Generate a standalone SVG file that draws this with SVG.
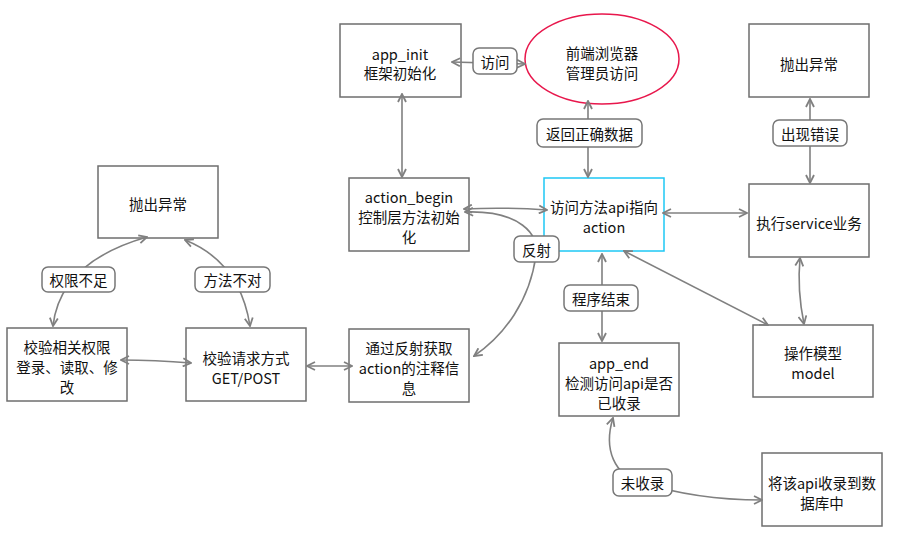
<svg xmlns="http://www.w3.org/2000/svg" width="905" height="545" viewBox="0 0 905 545">
  <style>
    .box { fill: #ffffff; stroke: #6e6e6e; stroke-width: 1.5; }
    .cyan { fill: #ffffff; stroke: #1ec8f5; stroke-width: 1.5; }
    .oval { fill: #ffffff; stroke: #e8174c; stroke-width: 1.5; }
    .t { font-family: "Noto Sans CJK SC", "Microsoft YaHei", sans-serif; font-size: 14.5px; fill: #111; text-anchor: middle; dominant-baseline: central; }
    .edge { fill: none; stroke: #808080; stroke-width: 1.6; marker-start: url(#arr); marker-end: url(#arr); }
    .tail { fill: none; stroke: #808080; stroke-width: 1.6; marker-end: url(#arr); }
    .lbl { fill: #ffffff; stroke: #777777; stroke-width: 1.5; }
  </style>
  <defs>
    <marker id="arr" viewBox="0 0 10 10" refX="9" refY="5" markerWidth="10" markerHeight="10" markerUnits="userSpaceOnUse" orient="auto-start-reverse">
      <path d="M1,1 L9,5 L1,9" fill="none" stroke="#808080" stroke-width="1.8"/>
    </marker>
  </defs>
  <rect width="905" height="545" fill="#ffffff"/>

  <!-- nodes -->
  <g id="app_init">
    <rect class="box" x="340" y="24" width="121" height="73"/>
    <text class="t" x="400" y="53">app_init</text>
    <text class="t" x="400" y="72">框架初始化</text>
  </g>
  <g id="browser">
    <ellipse class="oval" cx="602" cy="59" rx="77" ry="45"/>
    <text class="t" x="602" y="52">前端浏览器</text>
    <text class="t" x="602" y="72">管理员访问</text>
  </g>
  <g id="error_top">
    <rect class="box" x="749" y="24" width="120" height="73"/>
    <text class="t" x="809" y="63">抛出异常</text>
  </g>
  <g id="action_begin">
    <rect class="box" x="349" y="178" width="120" height="73"/>
    <text class="t" x="409" y="196">action_begin</text>
    <text class="t" x="409" y="216">控制层方法初始</text>
    <text class="t" x="409" y="236">化</text>
  </g>
  <g id="access_api">
    <rect class="cyan" x="544" y="178" width="120" height="73"/>
    <text class="t" x="604" y="206">访问方法api指向</text>
    <text class="t" x="604" y="226">action</text>
  </g>
  <g id="service">
    <rect class="box" x="749" y="184" width="120" height="73"/>
    <text class="t" x="809" y="222">执行service业务</text>
  </g>
  <g id="model">
    <rect class="box" x="753" y="325" width="120" height="72"/>
    <text class="t" x="813" y="352">操作模型</text>
    <text class="t" x="813" y="372">model</text>
  </g>
  <g id="error_left">
    <rect class="box" x="98" y="166" width="120" height="72"/>
    <text class="t" x="158" y="203">抛出异常</text>
  </g>
  <g id="check_auth">
    <rect class="box" x="7" y="328" width="120" height="73"/>
    <text class="t" x="67" y="346">校验相关权限</text>
    <text class="t" x="67" y="366">登录、读取、修</text>
    <text class="t" x="67" y="386">改</text>
  </g>
  <g id="check_method">
    <rect class="box" x="186" y="328" width="120" height="73"/>
    <text class="t" x="246" y="357">校验请求方式</text>
    <text class="t" x="246" y="377">GET/POST</text>
  </g>
  <g id="reflect_info">
    <rect class="box" x="349" y="329" width="120" height="73"/>
    <text class="t" x="409" y="347">通过反射获取</text>
    <text class="t" x="409" y="367">action的注释信</text>
    <text class="t" x="409" y="387">息</text>
  </g>
  <g id="app_end">
    <rect class="box" x="559" y="343" width="120" height="73"/>
    <text class="t" x="619" y="362">app_end</text>
    <text class="t" x="619" y="382">检测访问api是否</text>
    <text class="t" x="619" y="402">已收录</text>
  </g>
  <g id="store_api">
    <rect class="box" x="762" y="453" width="120" height="73"/>
    <text class="t" x="822" y="482">将该api收录到数</text>
    <text class="t" x="822" y="502">据库中</text>
  </g>

  <!-- connectors -->
  <g id="connectors">
    <path class="edge" d="M452,62 L525,64"/>
    <path class="edge" d="M402,94 L402,177"/>
    <path class="edge" d="M588,101 L588,177"/>
    <path class="edge" d="M464,209 Q505,207 547,210"/>
    <path class="edge" d="M465,212 C520,210 540,235 536,255 C530,300 505,335 474,356"/>
    <path class="edge" d="M663,213 L747,213"/>
    <path class="edge" d="M810,99 L810,183"/>
    <path class="edge" d="M800,258 Q797,290 804,324"/>
    <path class="edge" d="M768,325 L624,251"/>
    <path class="edge" d="M602,254 L602,341"/>
    <path class="edge" d="M613,418 C603,450 615,475 640,482 C680,495 720,500 762,500"/>
    <path class="edge" d="M307,366 L352,366"/>
    <path class="edge" d="M121,360 Q155,360 191,363"/>
    <path class="edge" d="M53,326 Q60,262 147,237"/>
    <path class="edge" d="M185,240 Q240,262 250,326"/>

    <g id="labels">
      <rect class="lbl" x="473" y="48" width="44" height="26" rx="6"/>
      <text class="t" x="495" y="61">访问</text>
      <rect class="lbl" x="537" y="119" width="105" height="28" rx="6"/>
      <text class="t" x="589.5" y="133">返回正确数据</text>
      <rect class="lbl" x="773" y="120" width="74" height="26" rx="6"/>
      <text class="t" x="810" y="133">出现错误</text>
      <rect class="lbl" x="514" y="236" width="45" height="26" rx="6"/>
      <text class="t" x="536.5" y="249">反射</text>
      <rect class="lbl" x="564" y="285" width="74" height="26" rx="6"/>
      <text class="t" x="601" y="298">程序结束</text>
      <rect class="lbl" x="613" y="469" width="59" height="27" rx="6"/>
      <text class="t" x="642.5" y="482.5">未收录</text>
      <rect class="lbl" x="42" y="267" width="73" height="25" rx="6"/>
      <text class="t" x="78.5" y="279.5">权限不足</text>
      <rect class="lbl" x="195" y="267" width="75" height="25" rx="6"/>
      <text class="t" x="232.5" y="279.5">方法不对</text>
    </g>
  </g>
</svg>
